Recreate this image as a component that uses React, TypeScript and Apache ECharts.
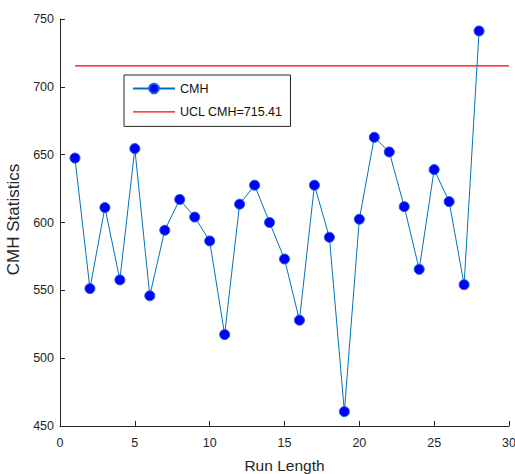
import React, { useEffect, useRef } from "react";
import * as echarts from "echarts";

const runs = [1,2,3,4,5,6,7,8,9,10,11,12,13,14,15,16,17,18,19,20,21,22,23,24,25,26,27,28];
const cmh = [647.5,551.3,611,557.7,654.5,546,594.3,617,604,586.4,517.4,613.5,627.5,600,573.1,528,627.5,589.1,460.6,602.4,662.8,652,611.7,565.5,639,615.4,554.2,741.2];
const uclValue = 715.41;
const uclRange = [1, 30];
const seriesNames = ["CMH", "UCL CMH=715.41"];
const xTicks = { min: 0, max: 30, interval: 5 };
const yTicks = { min: 450, max: 750, interval: 50 };

export default function App() {
  const ref = useRef<HTMLDivElement>(null);
  useEffect(() => {
    if (!ref.current) return;
    const chart = echarts.init(ref.current, null, { renderer: "svg" });
    const font = "Arial, 'Liberation Sans', Helvetica, sans-serif";
    const axisCommon = {
      axisLine: { show: true, onZero: false, lineStyle: { color: "#262626", width: 1 } },
      axisTick: { show: true, inside: true, length: 5, lineStyle: { color: "#262626" } },
      splitLine: { show: false },
    };
    chart.setOption({
      animation: false,
      backgroundColor: "#fff",
      grid: { left: 60, top: 19, right: 6, bottom: 48, containLabel: false, outerBoundsMode: "none" },
      legend: {
        orient: "vertical",
        left: 124,
        top: 75,
        data: [
          { name: seriesNames[0] },
          { name: seriesNames[1], icon: "path://M0,0H42V1.4H0Z", itemStyle: { color: "#FF0000" } },
        ],
        borderColor: "#262626",
        borderWidth: 1,
        backgroundColor: "#fff",
        padding: [7, 8, 8, 8],
        itemWidth: 42,
        itemHeight: 12,
        itemGap: 10.4,
        textStyle: { fontSize: 12.5, color: "#111", fontFamily: font },
      },
      xAxis: {
        type: "value",
        ...xTicks,
        name: "Run Length",
        nameLocation: "middle",
        nameGap: 31,
        nameTextStyle: { fontSize: 15.5, color: "#262626", fontFamily: font },
        ...axisCommon,
        axisLabel: { margin: 10, fontSize: 12.5, color: "#262626", fontFamily: font },
      },
      yAxis: {
        type: "value",
        ...yTicks,
        name: "CMH Statistics",
        nameLocation: "middle",
        nameGap: 27,
        nameTextStyle: { fontSize: 17, color: "#262626", fontFamily: font, padding: [0, 0, 0, 6] },
        ...axisCommon,
        axisLabel: { margin: 6, fontSize: 12.5, color: "#262626", fontFamily: font },
      },
      series: [
        {
          name: seriesNames[0],
          type: "line",
          data: runs.map((r, i) => [r, cmh[i]]),
          symbol: "circle",
          symbolSize: 10,
          color: "#0000FF",
          lineStyle: { color: "#0072BD", width: 1 },
          itemStyle: { color: "#0000FF", borderColor: "#1560D8", borderWidth: 1 },
          z: 3,
        },
        {
          name: seriesNames[1],
          type: "line",
          data: uclRange.map((x) => [x, uclValue]),
          symbol: "none",
          color: "#FF0000",
          lineStyle: { color: "#FF0000", width: 1.2 },
          itemStyle: { color: "#FF0000" },
          z: 2,
        },
      ],
    });
    return () => chart.dispose();
  }, []);
  return <div ref={ref} style={{ width: 515, height: 474, position: "absolute", left: 0, top: 0 }} />;
}
